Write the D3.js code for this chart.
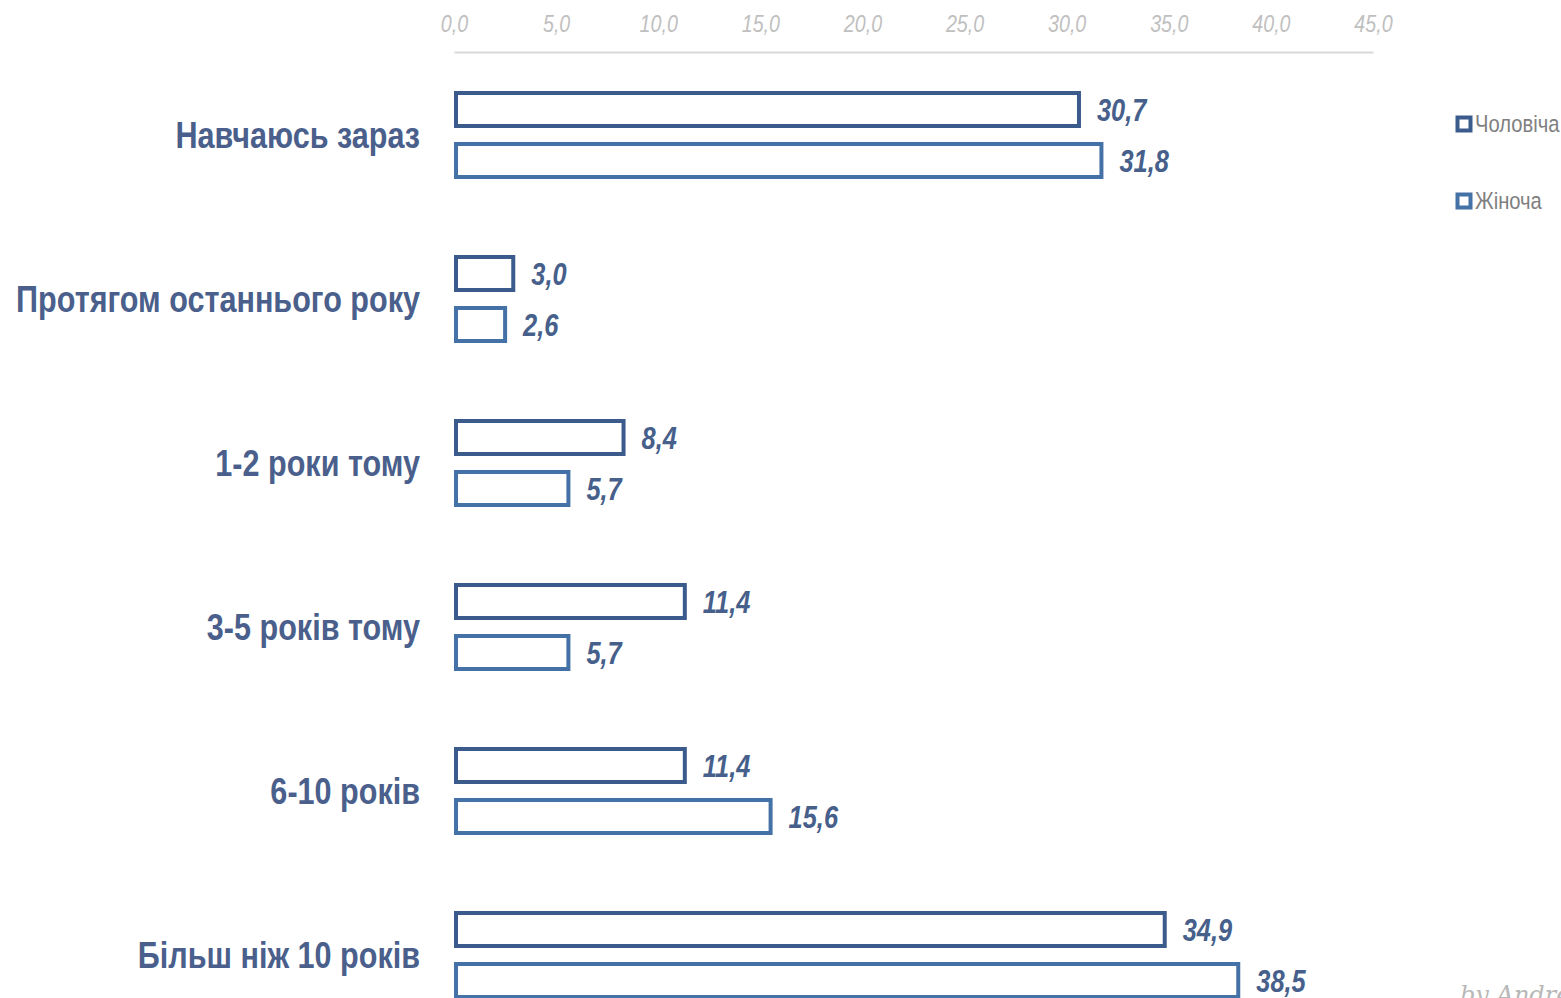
<!DOCTYPE html>
<html>
<head>
<meta charset="utf-8">
<script src="https://cdn.jsdelivr.net/npm/d3@7"></script>
<style>
  html, body { margin: 0; padding: 0; background: #ffffff; }
  svg { display: block; }
  .narrow { font-family: "Liberation Sans", Arial, sans-serif; }
</style>
</head>
<body>
<svg id="chart" width="1561" height="998"></svg>
<script>
const categories = ["Навчаюсь зараз", "Протягом останнього року", "1-2 роки тому", "3-5 років тому", "6-10 років", "Більш ніж 10 років"];
const seriesNames = ["Чоловіча", "Жіноча"];
const maleValues = [30.7, 3.0, 8.4, 11.4, 11.4, 34.9];
const femaleValues = [31.8, 2.6, 5.7, 5.7, 15.6, 38.5];
const tickValues = [0, 5, 10, 15, 20, 25, 30, 35, 40, 45];

const colors = { "Чоловіча": "#3a5b8b", "Жіноча": "#4471a6" };
const fmt = v => d3.format(".1f")(v).replace(".", ",");
const SX = 0.82; // narrow-font emulation

const svg = d3.select("#chart");

const x = d3.scaleLinear().domain([0, 45]).range([454, 1373]);
const y = d3.scaleBand().domain(categories).range([53, 53 + 164 * 6]).padding(0);
const yInner = d3.scaleBand().domain(seriesNames).range([38, 126]).paddingInner(0.2745).paddingOuter(0);

// Axis
const axis = d3.axisTop(x).tickValues(tickValues).tickSize(0).tickPadding(0).tickFormat(fmt);
const gAxis = svg.append("g").attr("transform", "translate(0,52)").call(axis);
gAxis.select(".domain").attr("stroke", "#d9d9d9").attr("stroke-width", 2);
gAxis.selectAll("text")
  .attr("class", "narrow")
  .attr("y", 0)
  .attr("transform", `translate(0,-20) scale(${SX},1)`)
  .attr("fill", "#bfbfbf")
  .attr("font-size", 24)
  .attr("font-style", "italic");

// Data rows
const rows = categories.map((c, i) => ({ cat: c, vals: [
  { s: seriesNames[0], v: maleValues[i] },
  { s: seriesNames[1], v: femaleValues[i] }
]}));

const g = svg.append("g");
const grp = g.selectAll("g.grp").data(rows).join("g")
  .attr("class", "grp")
  .attr("transform", d => `translate(0,${y(d.cat)})`);

const sw = 4;
grp.selectAll("rect").data(d => d.vals).join("rect")
  .attr("x", x(0) + sw / 2)
  .attr("y", d => yInner(d.s) + sw / 2)
  .attr("width", d => Math.max(0, x(d.v) - x(0) - sw))
  .attr("height", yInner.bandwidth() - sw)
  .attr("fill", "#ffffff")
  .attr("stroke", d => colors[d.s])
  .attr("stroke-width", sw);

grp.selectAll("text.val").data(d => d.vals).join("text")
  .attr("class", "val narrow")
  .attr("transform", d => `translate(${x(d.v) + 16},${yInner(d.s) + yInner.bandwidth() / 2}) scale(${SX},1)`)
  .attr("dy", "0.36em")
  .attr("fill", "#475f8b")
  .attr("font-size", 31)
  .attr("font-weight", "bold")
  .attr("font-style", "italic")
  .text(d => fmt(d.v));

grp.append("text")
  .attr("class", "narrow")
  .attr("transform", `translate(420,${y.bandwidth() / 2}) scale(0.82,1)`)
  .attr("dy", "0.36em")
  .attr("text-anchor", "end")
  .attr("fill", "#4a5f8b")
  .attr("font-size", 37.3)
  .attr("font-weight", "bold")
  .text(d => d.cat);

// Legend
const leg = svg.append("g").selectAll("g").data(seriesNames).join("g")
  .attr("transform", (d, i) => `translate(1456,${124 + i * 77})`);
leg.append("rect")
  .attr("x", 1.5).attr("y", -6.5).attr("width", 13).attr("height", 13)
  .attr("fill", "#ffffff")
  .attr("stroke", d => colors[d]).attr("stroke-width", 4);
leg.append("text")
  .attr("class", "narrow")
  .attr("transform", `translate(19,0) scale(0.86,1)`)
  .attr("dy", "0.36em")
  .attr("fill", "#7f7f7f").attr("font-size", 23.5)
  .text(d => d);

// Watermark
svg.append("text")
  .attr("x", 1460).attr("y", 1003)
  .attr("fill", "#b8b8b8")
  .attr("font-family", "DejaVu Serif, serif")
  .attr("font-style", "italic")
  .attr("font-size", 24)
  .text("by Andrey");
</script>
</body>
</html>
